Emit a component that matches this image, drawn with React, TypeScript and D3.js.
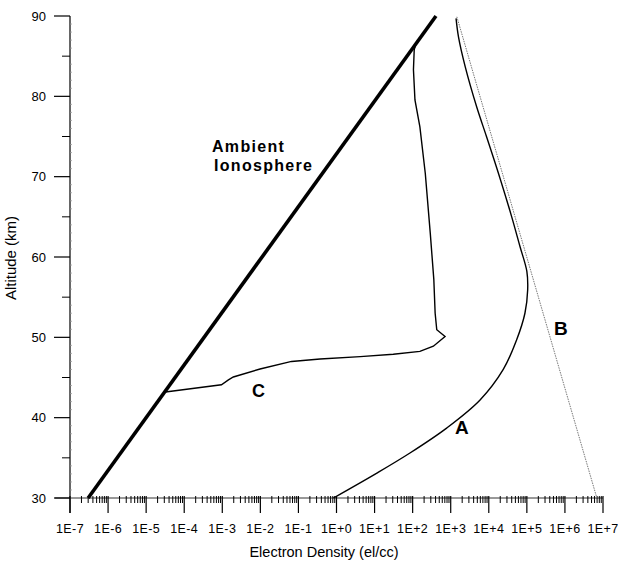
import React from 'react';
import * as d3 from 'd3';

// altitude (km) / electron density (el/cc)
const ambientAlt = [30, 90];
const ambientDens = [3.0e-7, 4.1e2];

const curveAAlt = [30, 33.1, 35.6, 38.7, 42.2, 46.0, 49.7, 53.0, 55.9, 58.2, 61.3, 65.0, 70.4, 75.0, 78.7, 83.7, 87.4, 89.7];
const curveADens = [0.83, 11.5, 85, 780, 5.9e3, 2.4e4, 5.4e4, 8.9e4, 1.05e5, 1.0e5, 6.6e4, 4.0e4, 1.8e4, 8.7e3, 4.8e3, 2.4e3, 1.6e3, 1.38e3];

const curveBAlt = [89.9, 30];
const curveBDens = [1.45e3, 6.9e6];

const curveCAlt = [43.2, 44.1, 44.7, 45.06, 46.06, 47.0, 47.3, 47.6, 47.9, 48.25, 48.9, 50.1, 50.95, 53.0, 57.2, 63.0, 70.4, 76.2, 79.55, 83.3, 85.8, 86.6];
const curveCDens = [3.2e-5, 9.5e-4, 1.45e-3, 1.95e-3, 9.8e-3, 6.6e-2, 0.37, 4.2, 31, 155, 350, 710, 430, 390, 360, 290, 215, 155, 115, 105, 110, 123];

const decades = d3.range(-7, 8);
const altMajor = [30, 40, 50, 60, 70, 80, 90];
const altMinor = [35, 45, 55, 65, 75, 85];

const font = '"Liberation Sans", Arial, sans-serif';

export default function App() {
  const x = d3.scaleLog().domain([1e-7, 1e7]).range([70, 603]);
  const y = d3.scaleLinear().domain([30, 90]).range([498, 16]);

  const pts = (alts: number[], dens: number[]) => alts.map((a, i) => [dens[i], a] as [number, number]);
  const line = d3.line<[number, number]>().x(d => x(d[0])).y(d => y(d[1]));
  const smooth = d3.line<[number, number]>().x(d => x(d[0])).y(d => y(d[1])).curve(d3.curveCatmullRom);

  const minorX: number[] = [];
  decades.slice(0, -1).forEach(k => {
    for (let m = 2; m <= 9; m++) minorX.push(m * Math.pow(10, k));
  });
  const fineAlt = d3.range(31, 90).filter(a => a % 5 !== 0);

  const label = (k: number) => `1E${k >= 0 ? '+' : ''}${k}`;

  return (
    <svg width={618} height={564} style={{ position: 'absolute', left: 0, top: 0, background: '#fff' }}>
      {/* axes */}
      <line x1={70} x2={70} y1={y(90)} y2={513} stroke="#000" strokeWidth={1.2} />
      <line x1={55} x2={603} y1={y(30)} y2={y(30)} stroke="#333" strokeWidth={1} />
      {altMajor.map(a => (
        <g key={'ya' + a}>
          <line x1={54} x2={70} y1={y(a)} y2={y(a)} stroke="#000" strokeWidth={1.2} />
          <text x={46} y={y(a)} dy="0.35em" textAnchor="end" fontFamily={font} fontSize={13}>{a}</text>
        </g>
      ))}
      {altMinor.map(a => (
        <line key={'ym' + a} x1={62} x2={70} y1={y(a)} y2={y(a)} stroke="#000" strokeWidth={1} />
      ))}
      {fineAlt.map(a => (
        <line key={'yf' + a} x1={70} x2={72} y1={y(a)} y2={y(a)} stroke="#999" strokeWidth={0.8} />
      ))}
      {minorX.map((v, i) => (
        <line key={'xm' + i} x1={x(v)} x2={x(v)} y1={496} y2={503} stroke="#000" strokeWidth={1} />
      ))}
      {decades.map(k => (
        <g key={'xa' + k}>
          <line x1={x(Math.pow(10, k))} x2={x(Math.pow(10, k))} y1={496} y2={513} stroke="#000" strokeWidth={1.2} />
          <text x={x(Math.pow(10, k))} y={533} textAnchor="middle" fontFamily={font} fontSize={12.5} letterSpacing={0.4}>{label(k)}</text>
        </g>
      ))}
      <text x={324} y={557} textAnchor="middle" fontFamily={font} fontSize={14.5}>Electron Density (el/cc)</text>
      <text transform="translate(16,258) rotate(-90)" textAnchor="middle" fontFamily={font} fontSize={15}>Altitude (km)</text>

      {/* curves */}
      <path d={line(pts(curveBAlt, curveBDens)) || ''} fill="none" stroke="#777" strokeWidth={1} strokeDasharray="1.5 1" />
      <path d={smooth(pts(curveAAlt, curveADens)) || ''} fill="none" stroke="#000" strokeWidth={1.4} />
      <path d={line(pts(curveCAlt, curveCDens)) || ''} fill="none" stroke="#000" strokeWidth={1.4} />
      <path d={line(pts(ambientAlt, ambientDens)) || ''} fill="none" stroke="#000" strokeWidth={3.6} />

      {/* labels */}
      <text x={212} y={152} fontFamily={font} fontWeight="bold" fontSize={16} letterSpacing={1.3}>Ambient</text>
      <text x={214} y={171} fontFamily={font} fontWeight="bold" fontSize={16} letterSpacing={1.3}>Ionosphere</text>
      <text x={455} y={434} fontFamily={font} fontWeight="bold" fontSize={19}>A</text>
      <text x={554} y={335} fontFamily={font} fontWeight="bold" fontSize={19}>B</text>
      <text x={252} y={397} fontFamily={font} fontWeight="bold" fontSize={18}>C</text>
    </svg>
  );
}
